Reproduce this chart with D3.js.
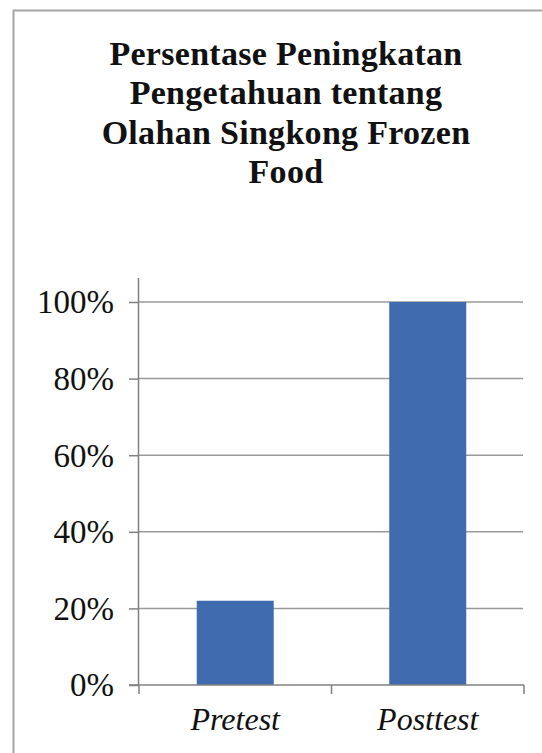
<!DOCTYPE html>
<html><head><meta charset="utf-8">
<script src="https://cdn.jsdelivr.net/npm/d3@7"></script>
<style>html,body{margin:0;padding:0;background:#fff;}svg{display:block;}</style>
</head><body>
<script>
const titleLines = ["Persentase Peningkatan", "Pengetahuan tentang", "Olahan Singkong Frozen", "Food"];
const categories = ["Pretest", "Posttest"];
const values = [0.22, 1.00];
const yTicks = [0, 0.2, 0.4, 0.6, 0.8, 1.0];

const W = 542, H = 753;
const svg = d3.select("body").append("svg").attr("width", W).attr("height", H);

// outer frame
svg.append("rect").attr("x", 13.5).attr("y", 10.5).attr("width", W + 10).attr("height", H + 10)
  .attr("fill", "#fff").attr("stroke", "#a6a6a6").attr("stroke-width", 2);

// title
const title = svg.append("text").attr("text-anchor", "middle")
  .attr("font-family", "'Liberation Serif', 'Times New Roman', serif")
  .attr("font-weight", "bold").attr("font-size", 34).attr("letter-spacing", 0.3).attr("fill", "#111");
titleLines.forEach((t, i) => {
  title.append("tspan").attr("x", 286).attr("y", 65 + i * 39.3).text(t);
});

const x0 = 139, x1 = 524, y0 = 685, y1 = 302;
const x = d3.scaleBand().domain(categories).range([x0, x1]).paddingInner(0).paddingOuter(0);
const y = d3.scaleLinear().domain([0, 1]).range([y0, y1]);

// gridlines
svg.append("g").selectAll("line").data(yTicks.filter(d => d > 0)).join("line")
  .attr("x1", x0).attr("x2", x1 - 1)
  .attr("y1", d => y(d)).attr("y2", d => y(d))
  .attr("stroke", "#9a9a9a").attr("stroke-width", 1.5);

// bars
const bw = x.bandwidth() * 0.4;
svg.append("g").selectAll("rect").data(categories).join("rect")
  .attr("x", d => x(d) + (x.bandwidth() - bw) / 2)
  .attr("width", bw)
  .attr("y", (d, i) => y(values[i]))
  .attr("height", (d, i) => y(0) - y(values[i]))
  .attr("fill", "#416BAF");

// y axis
const yAxis = d3.axisLeft(y).tickValues(yTicks).tickFormat(d3.format(".0%")).tickSize(10).tickPadding(15);
const gy = svg.append("g").attr("transform", `translate(${x0},0)`).call(yAxis);
gy.select(".domain").attr("d", `M-0.5,278V${y0}`).attr("stroke", "#808080").attr("stroke-width", 1.5);
gy.selectAll(".tick line").attr("stroke", "#808080").attr("stroke-width", 1.5);
gy.selectAll(".tick text").attr("font-family", "'Liberation Serif', 'Times New Roman', serif")
  .attr("font-size", 33).attr("fill", "#111").attr("dy", "0.33em");

// x axis
const xAxis = d3.axisBottom(x).tickSize(0).tickPadding(22);
const gx = svg.append("g").attr("transform", `translate(0,${y0})`).call(xAxis);
gx.select(".domain").remove();
gx.append("line").attr("x1", x0 - 10).attr("x2", x1).attr("y1", 0).attr("y2", 0)
  .attr("stroke", "#808080").attr("stroke-width", 1.5);
gx.selectAll(".tick text").attr("font-family", "'Liberation Serif', 'Times New Roman', serif")
  .attr("font-style", "italic").attr("font-size", 32).attr("fill", "#111").attr("dy", "0.71em");
// category boundary ticks
const bounds = [x0, x0 + x.bandwidth(), x1];
gx.append("g").selectAll("line").data(bounds).join("line")
  .attr("x1", d => d).attr("x2", d => d).attr("y1", 0).attr("y2", 9)
  .attr("stroke", "#808080").attr("stroke-width", 1.5);
</script>
</body></html>
